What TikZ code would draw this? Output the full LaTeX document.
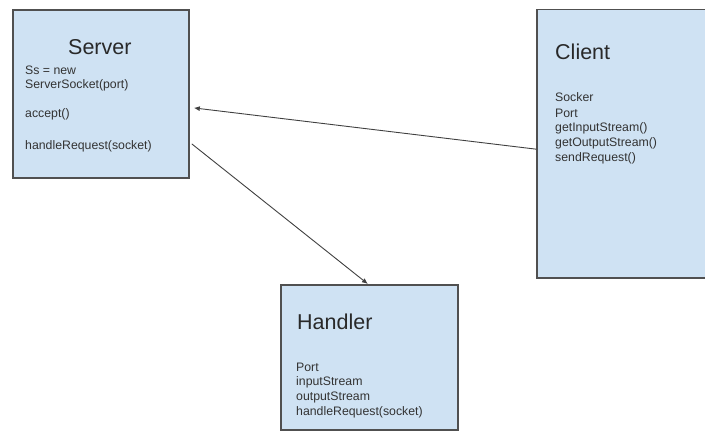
\documentclass[tikz,border=0pt]{standalone}
\usepackage{fontspec}
\setmainfont{Liberation Sans}
\usetikzlibrary{arrows.meta}
\definecolor{boxfill}{HTML}{CFE2F3}
\definecolor{boxline}{HTML}{505050}
\definecolor{wire}{HTML}{404040}
\definecolor{ink}{HTML}{333333}
\tikzset{
  classbox/.style={draw=boxline, line width=1.8pt, fill=boxfill, anchor=north west, inner sep=0pt},
  title/.style={anchor=west, inner sep=0pt, text=ink!80!black, font=\fontsize{21.5}{25}\selectfont},
  member/.style={anchor=west, inner sep=0pt, text=ink, font=\fontsize{12.3}{14}\selectfont},
  link/.style={draw=wire, line width=0.9pt, -{Latex[length=6pt,width=5pt]}}
}
\begin{document}
\begin{tikzpicture}[x=1pt, y=-1pt]
\useasboundingbox (0,0) rectangle (705,432);

% class boxes (the client box runs on past the right edge of the page)
\node[classbox, minimum width=176pt, minimum height=168pt] (server) at (12,9) {};
\node[classbox, minimum width=190pt, minimum height=268.5pt] (client) at (536,8.5) {};
\node[classbox, minimum width=177pt, minimum height=145pt] (handler) at (280,284) {};

% Server
\node[title] (servertitle) at (68,47) {Server};
\node[member] (s1) at (25,70) {Ss = new};
\node[member] (s2) at (25,85) {ServerSocket(port)};
\node[member] (s3) at (25,114) {accept()};
\node[member] (s4) at (25,146) {handleRequest(socket)};

% Client
\node[title] (clienttitle) at (555,52) {Client};
\node[member] (c1) at (555,97.5) {Socker};
\node[member] (c2) at (555,113) {Port};
\node[member] (c3) at (555,128) {getInputStream()};
\node[member] (c4) at (555,143) {getOutputStream()};
\node[member] (c5) at (555,158) {sendRequest()};

% Handler
\node[title] (handlertitle) at (297,322) {Handler};
\node[member] (h1) at (296,367) {Port};
\node[member] (h2) at (296,382) {inputStream};
\node[member] (h3) at (296,397) {outputStream};
\node[member] (h4) at (296,412) {handleRequest(socket)};

% connectors
\draw[link] ([yshift=-5.5pt]client.west) -- ([xshift=4pt,yshift=-14pt]server.east);
\draw[link] ([xshift=2pt,yshift=-50pt]server.east) -- ([xshift=-1.5pt]handler.north);
\end{tikzpicture}
\end{document}
